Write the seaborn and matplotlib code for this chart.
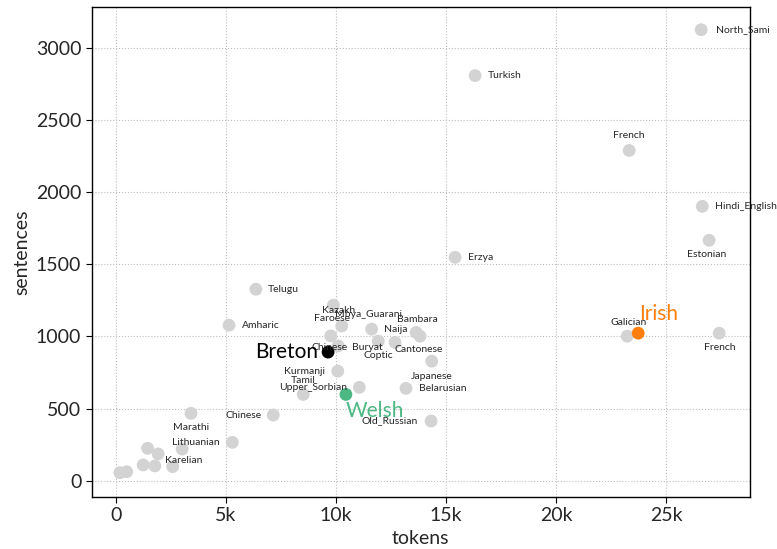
import matplotlib
matplotlib.use("Agg")
import matplotlib.pyplot as plt
import seaborn as sns
import pandas as pd

# treebanks: tokens / sentences (gray background points)
names = ["North_Sami", "Turkish", "French", "Hindi_English", "Estonian", "Erzya",
         "Telugu", "Amharic", "Galician", "French", "Kazakh", "Mbya_Guarani",
         "Faroese", "Buryat", "Coptic", "Naija", "Bambara", "Cantonese", "Chinese",
         "Japanese", "Kurmanji", "Tamil", "Belarusian", "Upper_Sorbian", "Chinese",
         "Old_Russian", "Marathi", "Lithuanian", "", "", "", "", "Karelian", "", "", ""]
tokens = [26590, 16320, 23320, 26640, 26950, 15410,
          6360, 5140, 23230, 27410, 9880, 10260,
          9760, 11620, 11920, 12680, 13640, 13820, 10100,
          14350, 10080, 11060, 13180, 8510, 7150,
          14320, 3410, 5290, 1440, 1920, 3010, 1240, 1770, 2580, 180, 490]
sentences = [3124, 2806, 2288, 1901, 1666, 1548,
             1327, 1078, 1002, 1023, 1217, 1073,
             1004, 1051, 968, 959, 1028, 1002, 935,
             829, 760, 648, 641, 599, 456,
             415, 468, 267, 226, 187, 221, 111, 104, 99, 57, 64]

# highlighted Celtic languages
hl_names = ["Breton", "Welsh", "Irish"]
hl_tokens = [9640, 10450, 23730]
hl_sentences = [892, 599, 1023]
hl_colors = ["black", "#4cb883", "#ff7f0e"]

# label placement: (dx, dy) in pixels and horizontal alignment
offsets = [(15, 0, "left"), (13, 0, "left"), (0, 15, "center"), (13, 0, "left"),
           (-2, -14, "center"), (13, 0, "left"), (12, 0, "left"), (13, 0, "left"),
           (1, 14, "center"), (1, -14, "center"), (5, -5, "center"), (27, 11, "center"),
           (1, 17, "center"), (-4, -18, "center"), (0, -14, "center"), (1, 13, "center"),
           (1, 13, "center"), (-1, -13, "center"), (-9, -2, "center"), (0, -15, "center"),
           (-13, 0, "right"), (-56, 7, "center"), (13, 0, "left"), (10, 7, "center"),
           (-12, 0, "right"), (-13, 0, "right"), (0, -14, "center"), (-13, 0, "right"),
           (0, 0, "left"), (0, 0, "left"), (0, 0, "left"), (0, 0, "left"),
           (10, 5, "left"), (0, 0, "left"), (0, 0, "left"), (0, 0, "left")]
hl_offsets = [(-10, 0, "right"), (0, -17, "left"), (1, 19, "left")]

df = pd.DataFrame({
    "tokens": tokens + hl_tokens,
    "sentences": sentences + hl_sentences,
    "group": ["other"] * len(tokens) + hl_names,
})
palette = {"other": "#d3d3d3"}
palette.update(dict(zip(hl_names, hl_colors)))

sns.set_style("ticks", {"axes.grid": True, "grid.linestyle": ":", "grid.color": "#bdbdbd"})
plt.rcParams["font.family"] = ["Lato", "DejaVu Sans"]

fig = plt.figure(figsize=(7.77, 5.49), dpi=100)
ax = fig.add_axes([0.118, 0.095, 0.847, 0.892])
sns.scatterplot(data=df, x="tokens", y="sentences", hue="group", palette=palette,
                s=85, linewidth=0, legend=False, ax=ax, zorder=3)

for n, x, y, (dx, dy, ha) in zip(names, tokens, sentences, offsets):
    if n:
        ax.annotate(n, (x, y), xytext=(dx, dy), textcoords="offset pixels",
                    ha=ha, va="center", fontsize=7.5, zorder=4)
for n, x, y, c, (dx, dy, ha) in zip(hl_names, hl_tokens, hl_sentences, hl_colors, hl_offsets):
    ax.annotate(n, (x, y), xytext=(dx, dy), textcoords="offset pixels",
                ha=ha, va="center", fontsize=15, color=c, zorder=4)

ax.set_xlim(-1100, 28800)
ax.set_ylim(-110, 3280)
ax.set_xticks([0, 5000, 10000, 15000, 20000, 25000])
ax.set_xticklabels(["0", "5k", "10k", "15k", "20k", "25k"])
ax.set_yticks([0, 500, 1000, 1500, 2000, 2500, 3000])
ax.tick_params(labelsize=14, length=4, color="black")
ax.set_xlabel("tokens", fontsize=14)
ax.set_ylabel("sentences", fontsize=14)
for sp in ax.spines.values():
    sp.set_color("black")
    sp.set_linewidth(1)

fig.savefig("out.png", dpi=100)
